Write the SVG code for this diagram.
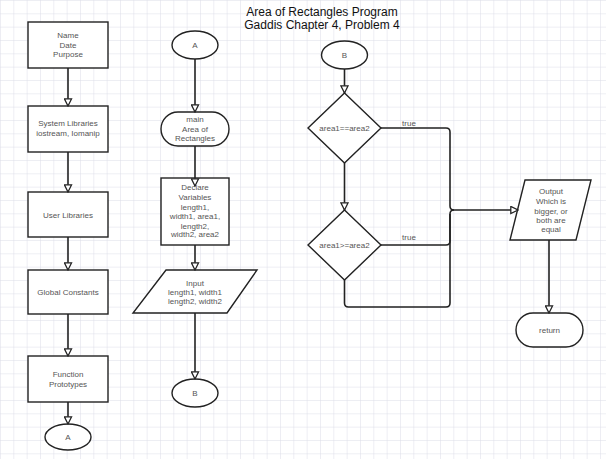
<svg xmlns="http://www.w3.org/2000/svg" width="606" height="459" viewBox="0 0 606 459">
<defs>
<pattern id="grid" width="13.3333" height="13.3333" patternUnits="userSpaceOnUse">
<path d="M0,0 H13.3333 M0,0 V13.3333" fill="none" stroke="#dcdde8" stroke-width="1"/>
</pattern>
<marker id="arr" viewBox="0 0 10 10" refX="9" refY="5" markerWidth="9" markerHeight="9" orient="auto" markerUnits="userSpaceOnUse">
<path d="M1,1 L9,5 L1,9 Z" fill="#fff" stroke="#222" stroke-width="1.4"/>
</marker>
</defs>
<style>
.shape{fill:#fff;stroke:#222;stroke-width:1.4}
.lbl{font-family:"Liberation Sans",Arial,sans-serif;font-size:8px;fill:#555;text-anchor:middle}
.title{font-family:"Liberation Sans",Arial,sans-serif;font-size:12px;fill:#111;text-anchor:middle}
.conn{fill:none;stroke:#222;stroke-width:1.6}
</style>
<rect width="606" height="459" fill="#fff"/>
<rect width="606" height="459" fill="url(#grid)"/>
<g id="title">
<text class="title" x="322" y="16">Area of Rectangles Program</text>
<text class="title" x="322" y="29">Gaddis Chapter 4, Problem 4</text>
</g>
<g id="n-name">
<rect class="shape" x="28" y="22" width="80" height="46"/>
<text class="lbl" x="68" y="38">Name</text>
<text class="lbl" x="68" y="48">Date</text>
<text class="lbl" x="68" y="57">Purpose</text>
</g>
<g id="n-syslib">
<rect class="shape" x="28" y="106" width="80" height="46"/>
<text class="lbl" x="68" y="126">System Libraries</text>
<text class="lbl" x="68" y="136">iostream, Iomanip</text>
</g>
<g id="n-userlib">
<rect class="shape" x="28" y="192" width="80" height="45"/>
<text class="lbl" x="68" y="218">User Libraries</text>
</g>
<g id="n-global">
<rect class="shape" x="28" y="270" width="80" height="44"/>
<text class="lbl" x="68" y="295">Global Constants</text>
</g>
<g id="n-proto">
<rect class="shape" x="28" y="356" width="80" height="46"/>
<text class="lbl" x="68" y="377">Function</text>
<text class="lbl" x="68" y="387">Prototypes</text>
</g>
<g id="n-a1">
<ellipse class="shape" cx="68" cy="437" rx="23" ry="13"/>
<text class="lbl" x="68" y="440">A</text>
</g>
<g id="n-a2">
<ellipse class="shape" cx="195" cy="45" rx="23" ry="14"/>
<text class="lbl" x="195" y="48">A</text>
</g>
<g id="n-main">
<rect class="shape" x="161" y="112" width="68" height="34" rx="17"/>
<text class="lbl" x="195" y="122">main</text>
<text class="lbl" x="195" y="132">Area of</text>
<text class="lbl" x="195" y="141">Rectangles</text>
</g>
<g id="n-declare">
<rect class="shape" x="161" y="178" width="68" height="67"/>
<text class="lbl" x="195" y="190">Declare</text>
<text class="lbl" x="195" y="200">Variables</text>
<text class="lbl" x="195" y="210">length1,</text>
<text class="lbl" x="195" y="219">width1, area1,</text>
<text class="lbl" x="195" y="229">length2,</text>
<text class="lbl" x="195" y="237">width2, area2</text>
</g>
<g id="n-input">
<polygon class="shape" points="166,270 257,270 227,313 133,313"/>
<text class="lbl" x="195" y="286">Input</text>
<text class="lbl" x="195" y="295">length1, width1</text>
<text class="lbl" x="195" y="304">length2, width2</text>
</g>
<g id="n-b1">
<ellipse class="shape" cx="195" cy="393" rx="23" ry="14"/>
<text class="lbl" x="195" y="396">B</text>
</g>
<g id="n-b2">
<ellipse class="shape" cx="344.5" cy="55" rx="23" ry="14"/>
<text class="lbl" x="344.5" y="58">B</text>
</g>
<g id="n-eq">
<polygon class="shape" points="344.5,93 381,128 344.5,163 308,128"/>
<text class="lbl" x="344.5" y="131">area1==area2</text>
</g>
<g id="n-ge">
<polygon class="shape" points="344.5,210 381,245 344.5,280 308,245"/>
<text class="lbl" x="344.5" y="248">area1&gt;=area2</text>
</g>
<g id="n-output">
<polygon class="shape" points="525,180 591,180 576,240 510,240"/>
<text class="lbl" x="551" y="194">Output</text>
<text class="lbl" x="551" y="204">Which is</text>
<text class="lbl" x="551" y="214">bigger, or</text>
<text class="lbl" x="551" y="223">both are</text>
<text class="lbl" x="551" y="232">equal</text>
</g>
<g id="n-return">
<rect class="shape" x="516" y="313" width="67" height="34" rx="17"/>
<text class="lbl" x="549.5" y="333">return</text>
</g>
<g id="connectors">
<path class="conn" d="M68,68 V106" marker-end="url(#arr)"/>
<path class="conn" d="M68,152 V192" marker-end="url(#arr)"/>
<path class="conn" d="M68,237 V270" marker-end="url(#arr)"/>
<path class="conn" d="M68,314 V356" marker-end="url(#arr)"/>
<path class="conn" d="M68,402 V424" marker-end="url(#arr)"/>
<path class="conn" d="M195,59 V112" marker-end="url(#arr)"/>
<path class="conn" d="M195,146 V186" marker-end="url(#arr)"/>
<path class="conn" d="M195,245 V270" marker-end="url(#arr)"/>
<path class="conn" d="M195,313 V379" marker-end="url(#arr)"/>
<path class="conn" d="M344.5,69 V93" marker-end="url(#arr)"/>
<path class="conn" d="M344.5,163 V210" marker-end="url(#arr)"/>
<path class="conn" d="M381,128 H446 Q450,128 450,132 V206 Q450,210 454,210 H518" marker-end="url(#arr)"/>
<path class="conn" d="M381,245 H446 Q450,245 450,241 V214 Q450,210 454,210"/>
<path class="conn" d="M344.5,280 V303 Q344.5,307 348.5,307 H446 Q450,307 450,303 V214"/>
<path class="conn" d="M549,240 V313" marker-end="url(#arr)"/>
<text class="lbl" x="409" y="126">true</text>
<text class="lbl" x="409" y="240">true</text>
</g>
</svg>
